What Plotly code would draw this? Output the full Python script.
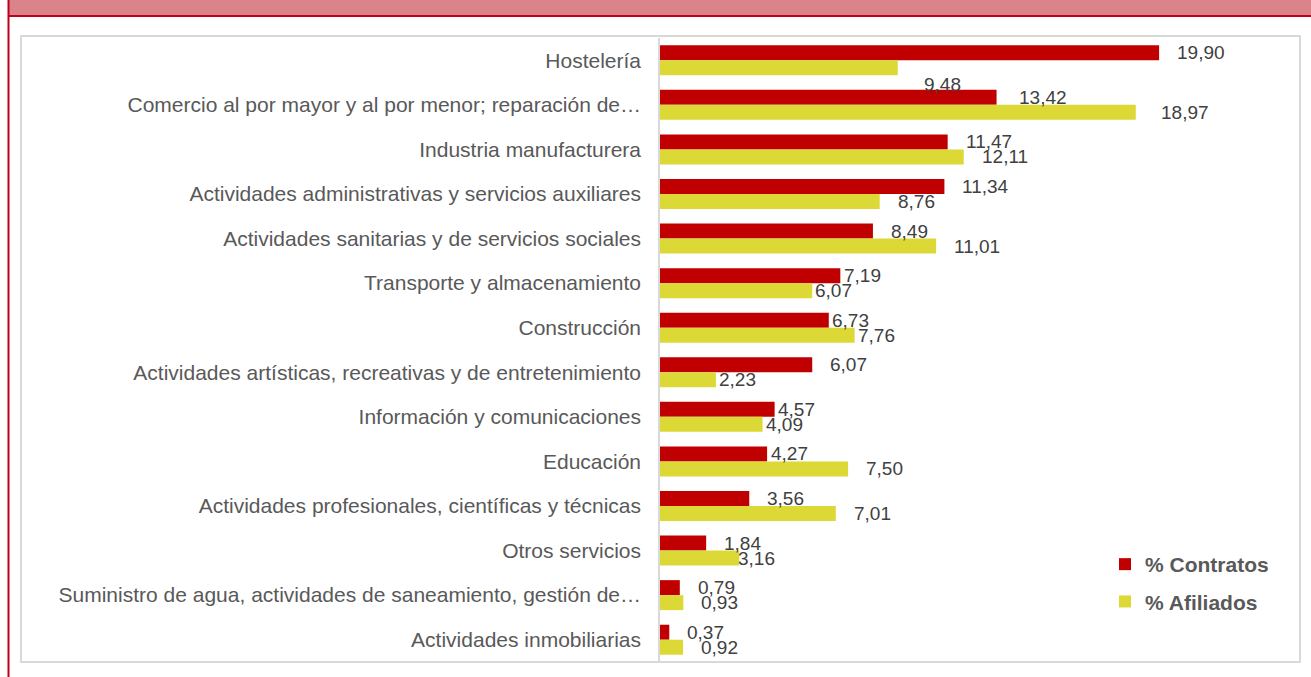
import plotly.graph_objects as go

categories = [
    "Hostelería",
    "Comercio al por mayor y al por menor; reparación de…",
    "Industria manufacturera",
    "Actividades administrativas y servicios auxiliares",
    "Actividades sanitarias y de servicios sociales",
    "Transporte y almacenamiento",
    "Construcción",
    "Actividades artísticas, recreativas y de entretenimiento",
    "Información y comunicaciones",
    "Educación",
    "Actividades profesionales, científicas y técnicas",
    "Otros servicios",
    "Suministro de agua, actividades de saneamiento, gestión de…",
    "Actividades inmobiliarias",
]
contratos = [19.90, 13.42, 11.47, 11.34, 8.49, 7.19, 6.73, 6.07, 4.57, 4.27, 3.56, 1.84, 0.79, 0.37]
afiliados = [9.48, 18.97, 12.11, 8.76, 11.01, 6.07, 7.76, 2.23, 4.09, 7.50, 7.01, 3.16, 0.93, 0.92]
series_names = ["% Contratos", "% Afiliados"]

RED = "#C00000"
YELLOW = "#DCD936"
BORDER_RED = "#C0001A"
PINK = "#DB838B"
GREY_TXT = "#595959"
LABEL_TXT = "#404040"
FONT = "Liberation Sans, Arial, sans-serif"

W, H = 1311, 677
L, R, T, B = 660, 1298, 38, 662  # plot area in pixels
PX_PER_UNIT = 25.08


def px(xp):
    return (xp - L) / (R - L)


def py(yp):
    return (B - yp) / (B - T)


def fmt(v):
    return f"{v:.2f}".replace(".", ",")


fig = go.Figure()
fig.add_trace(go.Bar(y=categories, x=contratos, orientation="h", name=series_names[0],
                     marker=dict(color=RED, line=dict(width=0)), legendgroup="a"))
fig.add_trace(go.Bar(y=categories, x=afiliados, orientation="h", name=series_names[1],
                     marker=dict(color=YELLOW, line=dict(width=0)), legendgroup="b"))

# label placement tweaks (pixels) : (series index, category) -> (xshift, yshift)
default_x = 16
nudges = {
    (1, "Hostelería"): (24, -24),
    (0, "Comercio al por mayor y al por menor; reparación de…"): (20, None),
    (1, "Comercio al por mayor y al por menor; reparación de…"): (23, None),
    (0, "Transporte y almacenamiento"): (2, None),
    (1, "Transporte y almacenamiento"): (1, None),
    (0, "Construcción"): (1, None),
    (1, "Construcción"): (1, None),
    (1, "Actividades artísticas, recreativas y de entretenimiento"): (1, None),
    (0, "Información y comunicaciones"): (1, None),
    (1, "Información y comunicaciones"): (1, None),
    (0, "Educación"): (2, None),
    (1, "Otros servicios"): (-3, None),
}

annotations = []
for si, vals in enumerate([contratos, afiliados]):
    for cat, v in zip(categories, vals):
        xs, ys = default_x, (7.5 if si == 0 else -7.5)
        if (si, cat) in nudges:
            nx, ny = nudges[(si, cat)]
            xs = nx if nx is not None else xs
            ys = ny if ny is not None else ys
        annotations.append(dict(x=v, y=cat, xref="x", yref="y", text=fmt(v), showarrow=False,
                                xanchor="left", yanchor="middle", xshift=xs, yshift=ys,
                                font=dict(family=FONT, size=19, color=LABEL_TXT)))

shapes = [
    # pink header band
    dict(type="rect", xref="paper", yref="paper", x0=px(9), x1=px(W), y0=py(0), y1=py(16),
         fillcolor=PINK, line=dict(width=0), layer="below"),
    dict(type="line", xref="paper", yref="paper", x0=px(8), x1=px(W), y0=py(16), y1=py(16),
         line=dict(color=BORDER_RED, width=2)),
    dict(type="line", xref="paper", yref="paper", x0=px(8.5), x1=px(8.5), y0=py(0), y1=py(H),
         line=dict(color=BORDER_RED, width=2)),
    # chart box
    dict(type="rect", xref="paper", yref="paper", x0=px(21), x1=px(1300), y0=py(36), y1=py(662),
         line=dict(color="#D9D9D9", width=2), fillcolor="rgba(0,0,0,0)", layer="below"),
]

fig.update_layout(
    width=W, height=H,
    margin=dict(l=L, r=W - R, t=T, b=H - B),
    paper_bgcolor="white", plot_bgcolor="rgba(0,0,0,0)",
    barmode="group", bargap=0.327, bargroupgap=0,
    font=dict(family=FONT, color=GREY_TXT),
    hovermode=False,
    showlegend=True,
    legend=dict(x=px(1105), y=py(544), xanchor="left", yanchor="top",
                font=dict(family=FONT, size=21, color=GREY_TXT, weight="bold"),
                bgcolor="rgba(0,0,0,0)", itemwidth=30, traceorder="grouped",
                tracegroupgap=7),
    annotations=annotations,
    shapes=shapes,
)
fig.update_xaxes(range=[0, (R - L) / PX_PER_UNIT], showgrid=False, zeroline=False,
                 showticklabels=False, showline=False, fixedrange=True)
fig.update_yaxes(range=[len(categories) - 0.5, -0.5], autorange=False, showgrid=False,
                 zeroline=False, showline=True, linecolor="#D9D9D9", linewidth=1.5,
                 ticks="", ticklabelstandoff=13, fixedrange=True,
                 tickfont=dict(family=FONT, size=21, color=GREY_TXT))

fig.write_html("out.html", config={"displayModeBar": False},
               post_script="document.body.style.margin='0px';")
